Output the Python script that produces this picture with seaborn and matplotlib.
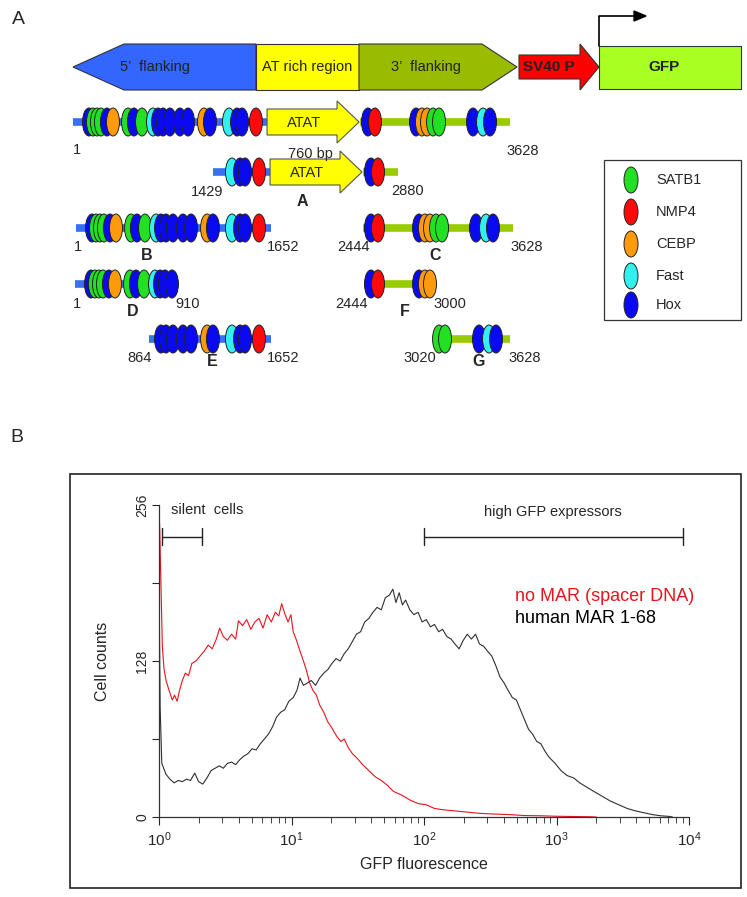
import matplotlib
matplotlib.use("Agg")
import matplotlib.pyplot as plt
from matplotlib.patches import Ellipse, Polygon, Rectangle
import seaborn as sns

# ---------------- panel A data ----------------
# binding sites along the full 3628 bp MAR 1-68 (position in bp, factor)
site_bp = [133, 166, 199, 232, 282, 332, 457, 506, 573, 664, 706, 747, 805, 888, 955,
           1088, 1137, 1295, 1362, 1403, 1519,
           2449, 2507, 2848, 2897, 2939, 2989, 3039, 3321, 3404, 3462]
site_factor = ['Hox', 'SATB1', 'SATB1', 'SATB1', 'Hox', 'CEBP', 'SATB1', 'Hox', 'SATB1',
               'Fast', 'Hox', 'Hox', 'Hox', 'Hox', 'Hox', 'CEBP', 'Hox', 'Fast', 'Hox',
               'Hox', 'NMP4',
               'Hox', 'NMP4', 'Hox', 'CEBP', 'CEBP', 'SATB1', 'SATB1', 'Hox', 'Fast', 'Hox']
factors = ['SATB1', 'NMP4', 'CEBP', 'Fast', 'Hox']
factor_colors = {'SATB1': '#22e022', 'NMP4': '#ff0a0a', 'CEBP': '#ff9a0a',
                 'Fast': '#33f0f0', 'Hox': '#0a0af0'}

# deletion fragments: 5' arm, 3' arm (bp), slice of sites kept, end labels, letter
frag_blue = [(0, 1611), (1137, 1611), (0, 1619), None, (0, 847), None, (606, 1619), None]
frag_green = [(2383, 3628), (2383, 2673), None, (2383, 3628), None, (2400, 2939), None, (2972, 3578)]
frag_sites = [(0, 31), (17, 23), (0, 21), (21, 31), (0, 13), (21, 26), (10, 21), (26, 31)]
frag_atat = [True, True, False, False, False, False, False, False]
frag_ends = [('1', '3628'), ('1429', '2880'), ('1', '1652'), ('2444', '3628'),
             ('1', '910'), ('2444', '3000'), ('864', '1652'), ('3020', '3628')]
frag_letter = ['', 'A', 'B', 'C', 'D', 'F', 'E', 'G']

header_parts = ['5’  flanking', 'AT rich region', '3’  flanking', 'SV40 P', 'GFP']

# ---------------- panel B data ----------------
# flow cytometry histograms (GFP fluorescence, cell counts)
nomar_x = [1.0, 1.01, 1.04, 1.06, 1.09, 1.13, 1.19, 1.26, 1.31, 1.37, 1.43, 1.50, 1.58, 1.67,
           1.77, 1.90, 2.04, 2.19, 2.35, 2.52, 2.71, 2.87, 3.06, 3.28, 3.53, 3.79, 3.98, 4.27,
           4.59, 4.93, 5.29, 5.68, 6.10, 6.55, 7.04, 7.55, 8.01, 8.43, 8.89, 9.41, 9.90, 10.3,
           10.9, 11.6, 12.3, 13.0, 13.7, 14.5, 15.4, 16.3, 17.5, 18.8, 20.2, 22.0, 23.6, 25.0,
           26.8, 28.8, 31.4, 34.4, 38.4, 42.8, 47.6, 52.9, 58.8, 67.8, 78.2, 90.2, 104, 120,
           138, 171, 212, 262, 325, 431, 573, 763, 1014, 1349, 1790, 2000]
nomar_counts = [0, 241, 180, 140, 122, 112, 104, 96, 100, 95, 104, 112, 118, 116,
                126, 128, 132, 136, 141, 138, 146, 155, 148, 145, 150, 146, 161, 157,
                162, 154, 160, 163, 155, 166, 160, 168, 165, 175, 167, 160, 166, 152,
                145, 136, 128, 120, 110, 104, 100, 92, 86, 78, 73, 66, 62, 64,
                57, 52, 48, 43, 38, 33, 30, 26, 21, 18, 14, 11, 10, 7,
                6, 5, 4, 3, 2.5, 2, 1.2, 1, 0.6, 0.4, 0.2, 0]

mar_x = [1.0, 1.005, 1.02, 1.05, 1.13, 1.21, 1.30, 1.40, 1.50, 1.61, 1.73, 1.86, 1.99, 2.14,
         2.30, 2.47, 2.65, 2.85, 3.06, 3.28, 3.53, 3.79, 4.07, 4.37, 4.69, 5.04, 5.41, 5.81,
         6.24, 6.70, 7.19, 7.72, 8.29, 8.89, 9.55, 10.3, 11.0, 11.6, 12.3, 13.2, 14.1, 15.2,
         16.3, 17.5, 18.8, 20.2, 21.7, 23.3, 25.0, 26.8, 28.8, 30.9, 33.2, 35.7, 38.4, 41.2,
         44.2, 47.6, 51.1, 54.8, 58.2, 61.4, 65.0, 68.7, 72.6, 78.2, 83.9, 90.2, 96.8, 104,
         112, 120, 129, 138, 149, 160, 171, 184, 198, 212, 228, 245, 262, 282, 302, 325,
         349, 374, 402, 431, 464, 498, 534, 573, 615, 660, 709, 763, 818, 879, 976, 1084,
         1203, 1349, 1497, 1662, 1912, 2212, 2557, 2956, 3418, 3952, 4569, 5282, 6107, 7060, 7500]
mar_counts = [0, 170, 90, 44, 35, 31, 28, 30, 29, 31, 30, 36, 29, 27,
              32, 38, 40, 42, 40, 44, 45, 43, 47, 50, 52, 56, 55, 60,
              64, 68, 74, 82, 86, 88, 95, 98, 104, 114, 108, 110, 112, 108,
              114, 118, 121, 126, 130, 128, 134, 138, 144, 150, 152, 160, 163, 168,
              172, 170, 180, 182, 187, 176, 184, 174, 178, 170, 166, 168, 160, 162,
              156, 158, 152, 154, 148, 146, 142, 138, 145, 150, 146, 150, 142, 140, 136, 132,
              124, 115, 110, 104, 98, 96, 88, 80, 72, 68, 62, 60, 54, 49, 44, 38,
              34, 32, 28, 25, 21, 17, 13, 10, 7, 5, 3.5, 2, 1, 0.5, 0]

silent_range = (1.05, 2.1)
high_range = (100, 9000)

# ---------------- figure ----------------
sns.set_style("white")
plt.rcParams['font.family'] = ['Liberation Sans', 'DejaVu Sans']

W, H = 747, 897
fig = plt.figure(figsize=(W / 100, H / 100), dpi=100)
ax = fig.add_axes([0, 0, 1, 1])
ax.set_xlim(0, W)
ax.set_ylim(H, 0)
ax.axis('off')

X0, S = 73, 0.12045          # px of bp 0, px per bp
EW, EH = 13, 28              # binding-site ellipse size


def bp2px(bp, shift=0):
    return X0 + bp * S + shift


ax.text(12, 20, 'A', fontsize=14, ha='left', va='center')
ax.text(10, 438, 'B', fontsize=14, ha='left', va='center')

# header construct
yc, top, bot = 67, 44, 90
colors_hdr = ['#3366ff', '#ffff00', '#99bb00', '#ff0000', '#aaff22']
ax.add_patch(Polygon([(73, yc), (124, top), (256, top), (256, bot), (124, bot)],
                     fc=colors_hdr[0], ec='#333333', lw=0.8))
ax.add_patch(Rectangle((256, top), 103, bot - top, fc=colors_hdr[1], ec='#333333', lw=0.8))
ax.add_patch(Polygon([(359, top), (482, top), (517, yc), (482, bot), (359, bot)],
                     fc=colors_hdr[2], ec='#333333', lw=0.8))
ax.add_patch(Polygon([(519, yc - 12), (580, yc - 12), (580, yc - 23), (599, yc),
                      (580, yc + 23), (580, yc + 12), (519, yc + 12)],
                     fc=colors_hdr[3], ec='#333333', lw=0.8))
ax.add_patch(Rectangle((599, 46), 142, 43, fc=colors_hdr[4], ec='#333333', lw=0.8))
ax.plot([599, 599, 636], [46, 16, 16], color='black', lw=1.2)
ax.add_patch(Polygon([(634, 11), (646, 16), (634, 21)], fc='black', ec='black'))
hdr_x = [155, 307, 426, 549, 664]
for x, lab in zip(hdr_x, header_parts):
    bold = lab in ('SV40 P', 'GFP')
    ax.text(x, yc, lab, fontsize=10.5 if not bold else 11, ha='center', va='center',
            fontweight='bold' if bold else 'normal',
            color='#222222')

# fragment rows (layout only)
frag_y = [122, 172, 228, 228, 284, 284, 339, 339]
frag_shift = [0, 3, 3, 3, 2, 3, 3, 6]
left_lab = [(77, 150), (207, 192), (78, 247), (353, 247), (77, 304), (352, 304), (140, 358), (420, 358)]
right_lab = [(523, 151), (408, 191), (283, 247), (527, 247), (188, 304), (450, 304), (283, 358), (525, 358)]
letter_pos = [None, (302, 201), (147, 255), (435, 255), (133, 312), (405, 312), (212, 362), (479, 362)]

for i in range(len(frag_y)):
    y, sh = frag_y[i], frag_shift[i]
    if frag_blue[i]:
        a, b = frag_blue[i]
        ax.plot([bp2px(a, sh), bp2px(b, sh)], [y, y], color='#3a70f0', lw=5.5,
                solid_capstyle='butt', zorder=1)
    if frag_green[i]:
        a, b = frag_green[i]
        ax.plot([bp2px(a, sh), bp2px(b, sh)], [y, y], color='#99cc00', lw=5.5,
                solid_capstyle='butt', zorder=1)
    if frag_atat[i]:
        x1 = bp2px(1611, sh)
        ax.add_patch(Polygon([(x1, y - 13), (x1 + 70, y - 13), (x1 + 70, y - 21),
                              (x1 + 92, y), (x1 + 70, y + 21), (x1 + 70, y + 13), (x1, y + 13)],
                             fc='#ffff00', ec='#555555', lw=0.8, zorder=2))
        ax.text(x1 + 37, y + 1, 'ATAT', fontsize=10.5, ha='center', va='center', zorder=3)
    s0, s1 = frag_sites[i]
    for k in range(s0, s1):
        ax.add_patch(Ellipse((bp2px(site_bp[k], sh), y), EW, EH,
                             fc=factor_colors[site_factor[k]], ec='#222222', lw=0.7,
                             zorder=3 + k * 0.01))
    ax.text(*left_lab[i], frag_ends[i][0], fontsize=10.5, ha='center', va='center')
    ax.text(*right_lab[i], frag_ends[i][1], fontsize=10.5, ha='center', va='center')
    if letter_pos[i]:
        ax.text(*letter_pos[i], frag_letter[i], fontsize=11.5, fontweight='bold',
                ha='center', va='center')

ax.text(310, 154, '760 bp', fontsize=10.5, ha='center', va='center')

# legend box
ax.add_patch(Rectangle((604, 160), 137, 160, fc='white', ec='#333333', lw=0.9))
leg_y = [180, 212, 244, 276, 305]
for y, f in zip(leg_y, factors):
    ax.add_patch(Ellipse((631, y), 14, 26, fc=factor_colors[f], ec='#222222', lw=0.7))
    ax.text(656, y, f, fontsize=10.5, ha='left', va='center')

# panel B frame
ax.add_patch(Rectangle((70, 474), 671, 414, fc='none', ec='#222222', lw=1.2))

# ---------------- histogram ----------------
x_left, x_right, y_bot, y_top = 159, 689, 817, 505
axh = fig.add_axes([x_left / W, 1 - y_bot / H, (x_right - x_left) / W, (y_bot - y_top) / H])
axh.patch.set_alpha(0)
sns.lineplot(x=nomar_x, y=nomar_counts, ax=axh, color='#e8141c', lw=0.8, sort=False,
             estimator=None)
sns.lineplot(x=mar_x, y=mar_counts, ax=axh, color='#303030', lw=0.8, sort=False,
             estimator=None)
axh.set_xscale('log')
axh.set_xlim(1, 1e4)
axh.set_ylim(0, 256)
sns.despine(ax=axh)
for sp in ('left', 'bottom'):
    axh.spines[sp].set_linewidth(0.9)
    axh.spines[sp].set_color('#333333')
axh.set_yticks([0, 64, 128, 192, 256])
axh.set_yticklabels(['0', '', '128', '', '256'], rotation=90, va='center', fontsize=10)
axh.tick_params(axis='y', direction='out', length=5, width=0.8, pad=2, left=True)
axh.tick_params(axis='x', which='major', direction='out', length=6, width=0.8, labelsize=11,
                bottom=True)
axh.tick_params(axis='x', which='minor', direction='out', length=4, width=0.6, bottom=True)
axh.set_xlabel('GFP fluorescence', fontsize=11.5, labelpad=6)
axh.set_ylabel('Cell counts', fontsize=11.5, labelpad=18)

# range brackets
by = 230
for lo, hi in (silent_range, high_range):
    axh.plot([lo, hi], [by, by], color='#222222', lw=1.0, clip_on=False)
    for v in (lo, hi):
        axh.plot([v, v], [by - 7, by + 7], color='#222222', lw=1.0, clip_on=False)
axh.text(2.3, 252, 'silent  cells', fontsize=10.5, ha='center', va='center')
axh.text(940, 250, 'high GFP expressors', fontsize=10.5, ha='center', va='center')
axh.text(490, 181, 'no MAR (spacer DNA)', fontsize=13, color='#e8141c', ha='left', va='center')
axh.text(490, 163, 'human MAR 1-68', fontsize=13, color='black', ha='left', va='center')

fig.savefig('out.png', dpi=100)
